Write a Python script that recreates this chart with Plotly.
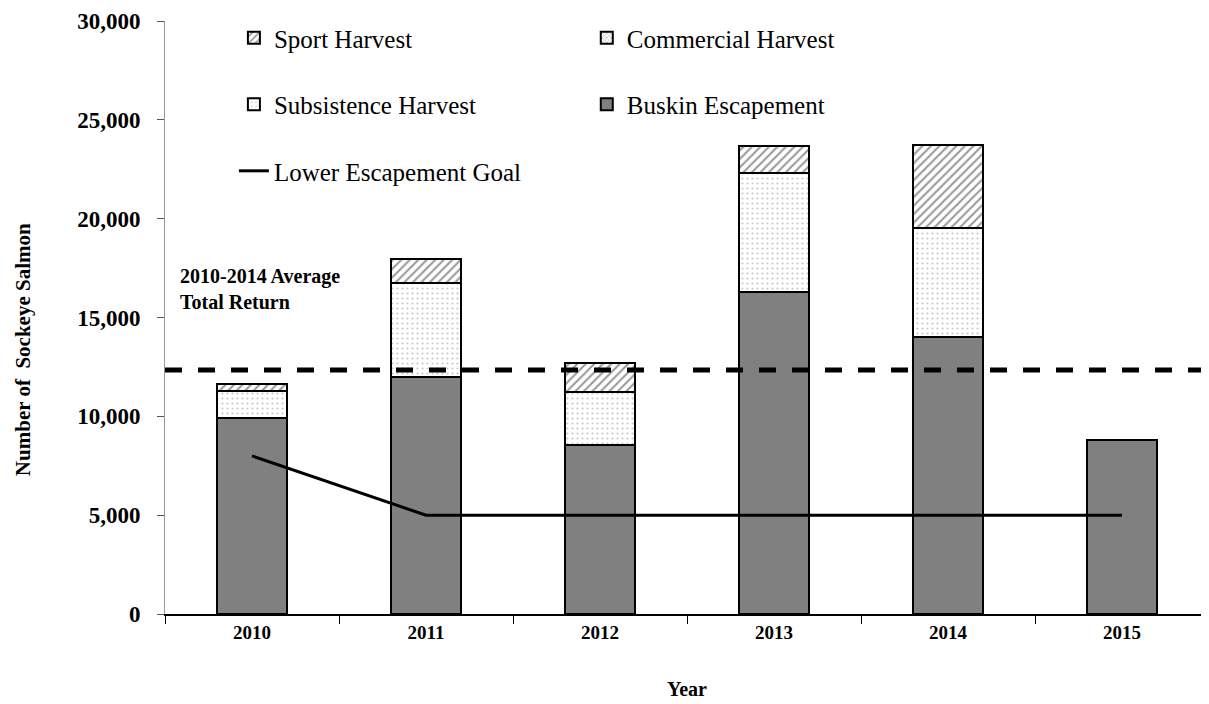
import plotly.graph_objects as go

# values
years = ['2010', '2011', '2012', '2013', '2014', '2015']
escapement = [9900, 12000, 8550, 16270, 14000, 8800]
subsistence = [1380, 4730, 2700, 6020, 5540, 0]
commercial = [0, 0, 0, 0, 0, 0]
sport = [350, 1230, 1430, 1400, 4180, 0]
goal_years = ['2010', '2011', '2012', '2013', '2014', '2015']
lower_goal = [8000, 5000, 5000, 5000, 5000, 5000]
avg_total_return = 12350

serif = 'Liberation Serif'
bar_line = dict(color='black', width=2)

fig = go.Figure()

fig.add_trace(go.Bar(
    x=years, y=escapement, name='Buskin Escapement',
    marker=dict(color='#808080', line=bar_line),
    legend='legend2', legendgroup='esc', legendrank=2,
))
fig.add_trace(go.Bar(
    x=years, y=subsistence, name='Subsistence Harvest',
    marker=dict(color='white', line=bar_line,
                pattern=dict(shape='.', fgcolor='#909090', bgcolor='white', size=5, solidity=0.15)),
    legend='legend', legendgroup='sub', legendrank=2,
))
fig.add_trace(go.Bar(
    x=years, y=commercial, name='Commercial Harvest',
    marker=dict(color='white', line=bar_line,
                pattern=dict(shape='x', fgcolor='#8a8a8a', bgcolor='white', size=4, solidity=0.4)),
    legend='legend2', legendgroup='com', legendrank=1,
))
fig.add_trace(go.Bar(
    x=years, y=sport, name='Sport Harvest',
    marker=dict(color='white', line=bar_line,
                pattern=dict(shape='/', fgcolor='#333333', bgcolor='white', size=6, solidity=0.35)),
    legend='legend', legendgroup='spo', legendrank=1,
))
fig.add_trace(go.Scatter(
    x=goal_years, y=lower_goal, name='Lower Escapement Goal', mode='lines',
    line=dict(color='black', width=3),
    legend='legend', legendgroup='goal', legendrank=3,
))

# 2010-2014 average total return
fig.add_shape(type='line', xref='paper', x0=0, x1=1, yref='y',
              y0=avg_total_return, y1=avg_total_return,
              line=dict(color='black', width=5, dash='17px,16px'))

fig.add_annotation(x=0.012, y=16450, xref='paper', yref='y', xanchor='left', yanchor='middle',
                   text='<b>2010-2014 Average<br>Total Return</b>', showarrow=False, align='left',
                   font=dict(family=serif, size=20, color='black'))

# y axis title sits a little below the middle of the axis
fig.add_annotation(x=-0.136, y=0.445, xref='paper', yref='paper', xanchor='center', yanchor='middle',
                   text='<b>Number of  Sockeye Salmon</b>', textangle=-90, showarrow=False,
                   font=dict(family=serif, size=21, color='black'))

legend_style = dict(font=dict(family=serif, size=25, color='black'), bgcolor='rgba(0,0,0,0)',
                    traceorder='grouped', tracegroupgap=31, yanchor='top', xanchor='left')

# page body adds 8px margin, so the figure is a bit smaller than the window
fig.update_layout(
    width=1201, height=696,
    margin=dict(l=157, r=0, t=13, b=90),
    plot_bgcolor='white', paper_bgcolor='white',
    barmode='stack', bargap=0.6,
    font=dict(family=serif, color='black'),
    legend=dict(x=0.066, y=1.01, **legend_style),
    legend2=dict(x=0.404, y=1.01, **legend_style),
    xaxis=dict(
        title=dict(text='Year', font=dict(family=serif, size=20, weight='bold'), standoff=40),
        tickfont=dict(family=serif, size=19, weight='bold'),
        showline=True, linecolor='black', linewidth=2,
        ticks='outside', tickson='boundaries', ticklen=8, tickcolor='black', tickwidth=1,
        showgrid=False, automargin=False,
    ),
    yaxis=dict(
        range=[0, 30000], tickvals=[0, 5000, 10000, 15000, 20000, 25000, 30000],
        tickformat=',', ticklabelstandoff=12,
        tickfont=dict(family=serif, size=23, weight='bold'),
        showline=True, linecolor='#999999', linewidth=1,
        ticks='outside', ticklen=7, tickcolor='#555555',
        showgrid=False, zeroline=False, automargin=False,
    ),
)

fig.write_html('out.html')
